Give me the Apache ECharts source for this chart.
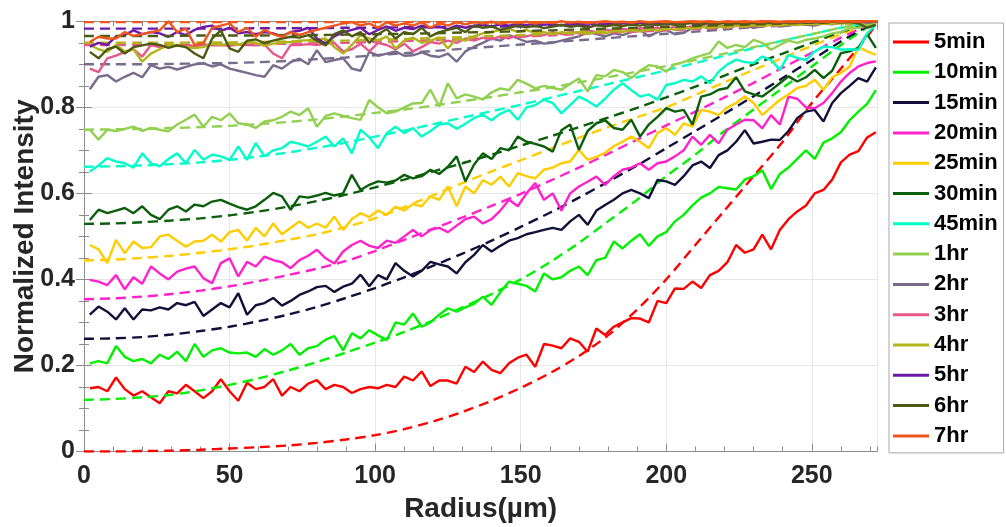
<!DOCTYPE html>
<html>
<head>
<meta charset="utf-8">
<script src="https://cdn.jsdelivr.net/npm/echarts@6/dist/echarts.min.js"></script>
<style>
html,body{margin:0;padding:0;background:#fff;}
#chart{width:1006px;height:527px;}
</style>
</head>
<body>
<div id="chart"></div>
<script>
// Radial intensity profiles at different diffusion times, with fitted curves (dashed)
const labels = ['5min','10min','15min','20min','25min','30min','45min','1hr','2hr','3hr','4hr','5hr','6hr','7hr'];
const colors = ['#ff0000','#00f000','#10103a','#ff22cc','#ffcc00','#0b5e0b','#00ffc8','#92d050','#786b8c','#e6578a','#b3b31a','#6e1aa8','#4d5a12','#f0561a'];

// measured radius positions (µm)
const radius = [
  2,5,8,11,14,17,20,23,26,29,
  32,35,38,41,44,47,50,53,56,59,
  62,65,68,71,74,77,80,83,86,89,
  92,95,98,101,104,107,110,113,116,119,
  122,125,128,131,134,137,140,143,146,149,
  152,155,158,161,164,167,170,173,176,179,
  182,185,188,191,194,197,200,203,206,209,
  212,215,218,221,224,227,230,233,236,239,
  242,245,248,251,254,257,260,263,266,269,
  272
];

const i5min = [
  .147,.150,.140,.172,.145,.130,.140,.126,.112,.140,
  .135,.155,.140,.124,.140,.168,.140,.118,.160,.145,
  .150,.168,.130,.150,.140,.158,.166,.145,.155,.150,
  .136,.145,.150,.147,.155,.150,.174,.165,.186,.152,
  .165,.165,.158,.197,.185,.209,.190,.182,.205,.218,
  .225,.197,.250,.246,.240,.263,.255,.232,.286,.271,
  .290,.300,.310,.309,.300,.350,.345,.379,.378,.395,
  .380,.410,.420,.440,.480,.462,.470,.504,.470,.515,
  .540,.558,.572,.600,.608,.632,.672,.690,.698,.730,
  .742
];
const i10min = [
  .205,.210,.205,.245,.220,.210,.215,.205,.225,.215,
  .232,.210,.250,.220,.235,.240,.230,.228,.230,.220,
  .238,.225,.235,.250,.225,.240,.245,.260,.268,.235,
  .275,.263,.282,.270,.259,.300,.295,.321,.290,.300,
  .318,.333,.325,.335,.343,.360,.341,.370,.395,.390,
  .385,.372,.414,.400,.405,.420,.430,.410,.445,.450,
  .488,.472,.490,.505,.478,.500,.510,.535,.550,.572,
  .590,.600,.615,.612,.609,.632,.640,.654,.610,.645,
  .660,.680,.700,.680,.718,.728,.742,.770,.790,.808,
  .840
];
const i15min = [
  .318,.337,.325,.307,.333,.307,.330,.328,.335,.330,
  .345,.340,.348,.315,.330,.345,.335,.368,.318,.340,
  .345,.357,.339,.350,.364,.372,.382,.385,.371,.383,
  .390,.411,.384,.410,.400,.438,.420,.407,.420,.441,
  .435,.430,.414,.440,.457,.480,.465,.478,.490,.496,
  .505,.510,.515,.520,.515,.535,.550,.527,.560,.573,
  .585,.600,.608,.600,.589,.631,.628,.620,.640,.665,
  .674,.659,.689,.700,.720,.747,.716,.720,.725,.724,
  .745,.775,.790,.794,.767,.810,.833,.850,.868,.860,
  .893
];
const i20min = [
  .399,.395,.387,.410,.377,.405,.390,.430,.414,.400,
  .418,.425,.430,.403,.391,.438,.449,.407,.441,.430,
  .453,.445,.440,.426,.445,.455,.469,.449,.437,.465,
  .480,.490,.478,.473,.490,.485,.500,.515,.500,.515,
  .520,.510,.525,.540,.546,.530,.540,.560,.585,.570,
  .600,.624,.585,.600,.560,.600,.616,.627,.639,.620,
  .640,.655,.660,.670,.655,.670,.674,.686,.700,.732,
  .713,.736,.716,.748,.760,.771,.770,.751,.782,.760,
  .825,.820,.800,.798,.810,.833,.860,.880,.895,.903,
  .907
];
const i25min = [
  .480,.470,.438,.492,.461,.488,.473,.475,.500,.504,
  .490,.476,.488,.490,.504,.488,.510,.515,.490,.520,
  .500,.530,.505,.520,.535,.520,.530,.520,.546,.515,
  .540,.554,.545,.560,.550,.569,.560,.575,.570,.593,
  .585,.616,.570,.616,.600,.631,.620,.639,.616,.647,
  .640,.635,.655,.660,.670,.674,.701,.678,.685,.694,
  .710,.720,.732,.720,.705,.740,.752,.736,.763,.755,
  .794,.790,.782,.800,.810,.825,.810,.782,.800,.817,
  .830,.845,.850,.864,.841,.870,.880,.895,.941,.930,
  .922
];
const i30min = [
  .538,.562,.554,.560,.566,.554,.570,.550,.540,.562,
  .570,.558,.574,.570,.581,.585,.576,.568,.562,.570,
  .585,.601,.593,.562,.593,.590,.595,.601,.595,.600,
  .643,.608,.620,.628,.625,.630,.643,.635,.640,.655,
  .645,.662,.686,.628,.667,.693,.680,.705,.700,.732,
  .720,.715,.709,.697,.747,.760,.701,.745,.763,.770,
  .752,.748,.771,.732,.760,.778,.798,.790,.794,.760,
  .825,.830,.841,.845,.870,.837,.830,.825,.840,.856,
  .872,.860,.870,.887,.868,.885,.926,.930,.938,.970,
  .938
];
const i45min = [
  .651,.665,.682,.674,.670,.660,.693,.670,.663,.680,
  .693,.670,.701,.678,.690,.686,.678,.709,.678,.717,
  .686,.700,.705,.720,.715,.709,.720,.732,.709,.728,
  .693,.748,.730,.705,.740,.755,.740,.752,.732,.745,
  .760,.763,.750,.762,.775,.783,.770,.785,.794,.771,
  .800,.805,.818,.810,.786,.805,.825,.815,.802,.820,
  .841,.856,.840,.825,.830,.818,.852,.856,.864,.860,
  .872,.856,.883,.900,.911,.905,.903,.918,.910,.887,
  .922,.915,.910,.930,.941,.940,.934,.935,.934,.972,
  .992
];
const i1hr = [
  .748,.725,.748,.745,.750,.755,.745,.752,.748,.744,
  .760,.771,.783,.755,.778,.770,.786,.763,.760,.752,
  .767,.770,.778,.790,.782,.798,.755,.780,.786,.780,
  .775,.771,.817,.800,.786,.790,.800,.809,.810,.841,
  .802,.856,.821,.830,.825,.818,.835,.844,.840,.864,
  .855,.844,.850,.845,.841,.855,.867,.837,.875,.872,
  .887,.882,.868,.885,.898,.895,.883,.900,.905,.914,
  .920,.926,.953,.938,.945,.940,.957,.950,.934,.945,
  .955,.950,.957,.960,.965,.972,.975,.984,.985,.990,
  .995
];
const i2hr = [
  .842,.871,.875,.860,.871,.880,.870,.898,.890,.894,
  .888,.894,.900,.902,.895,.900,.890,.885,.880,.875,
  .871,.898,.890,.905,.913,.900,.933,.905,.910,.914,
  .890,.885,.929,.920,.925,.930,.920,.921,.928,.920,
  .917,.925,.906,.930,.941,.950,.960,.955,.968,.960,
  .952,.955,.948,.950,.955,.960,.965,.975,.970,.965,
  .972,.968,.975,.980,.965,.975,.980,.970,.973,.985,
  .990,.982,.988,.985,.990,.992,.985,.990,.993,.988,
  .990,.995,.992,.990,.995,.993,.997,.995,.998,.996,
  1.0
];
const i3hr = [
  .890,.882,.914,.920,.929,.935,.918,.945,.940,.945,
  .943,.945,.942,.946,.944,.945,.943,.946,.945,.944,
  .946,.925,.914,.945,.945,.947,.945,.948,.950,.930,
  .935,.948,.930,.950,.945,.935,.948,.930,.940,.952,
  .948,.955,.950,.960,.955,.962,.958,.965,.960,.968,
  .965,.970,.968,.975,.970,.975,.972,.978,.975,.980,
  .978,.982,.980,.984,.982,.985,.983,.987,.985,.988,
  .986,.990,.988,.990,.989,.992,.990,.993,.992,.994,
  .993,.995,.994,.996,.995,.997,.996,.998,.997,.999,
  1.0
];
const i4hr = [
  .945,.935,.929,.945,.930,.935,.906,.925,.935,.945,
  .945,.940,.938,.940,.948,.945,.948,.945,.952,.950,
  .943,.948,.950,.952,.955,.956,.958,.960,.940,.925,
  .945,.968,.960,.955,.965,.937,.955,.962,.950,.955,
  .962,.937,.960,.955,.965,.972,.975,.980,.983,.975,
  .980,.972,.975,.970,.975,.972,.975,.970,.975,.972,
  .978,.975,.980,.976,.982,.978,.984,.980,.985,.983,
  .987,.985,.988,.986,.990,.988,.991,.989,.992,.990,
  .993,.991,.994,.993,.995,.994,.996,.995,.997,.998,
  1.0
];
const i5hr = [
  .941,.950,.945,.965,.968,.979,.970,.975,.972,.964,
  .975,.968,.980,.987,.990,.978,.985,.972,.975,.970,
  .975,.972,.965,.975,.978,.985,.960,.948,.965,.975,
  .980,.985,.970,.980,.988,.978,.985,.982,.990,.985,
  .988,.982,.990,.985,.990,.992,.988,.993,.990,.994,
  .991,.995,.992,.994,.990,.995,.993,.996,.992,.995,
  .994,.996,.993,.997,.995,.996,.994,.997,.996,.998,
  .995,.997,.996,.998,.996,.998,.997,.999,.997,.998,
  .998,.999,.997,.999,.998,1.0,.998,.999,1.0,.999,
  1.0
];
const i6hr = [
  .929,.914,.935,.941,.925,.940,.944,.948,.945,.938,
  .944,.940,.925,.914,.960,.979,.937,.929,.955,.958,
  .949,.955,.960,.964,.962,.968,.955,.944,.970,.979,
  .965,.975,.950,.970,.982,.960,.975,.970,.985,.965,
  .975,.980,.985,.975,.990,.985,.988,.980,.985,.990,
  .986,.990,.984,.988,.992,.987,.990,.985,.991,.988,
  .992,.989,.993,.990,.994,.991,.995,.992,.994,.996,
  .993,.996,.994,.997,.995,.997,.996,.998,.996,.998,
  .997,.999,.998,.999,.997,1.0,.998,.999,.995,.985,
  .992
];
const i7hr = [
  .952,.964,.960,.960,.975,.966,.970,.975,.979,1.0,
  .975,.983,.945,.950,.985,.990,.995,.975,.985,.964,
  .980,.970,.964,.975,.968,.975,.980,.985,.990,.995,
  .998,.990,.995,.985,.998,.990,.995,.990,.998,.985,
  .995,.990,.998,.993,.998,.995,.999,.994,.998,.996,
  .999,.995,.998,.996,1.0,.997,.999,.996,.998,1.0,
  .998,.999,.997,1.0,.998,.999,1.0,.998,.999,1.0,
  .999,1.0,.998,1.0,.999,1.0,.999,1.0,1.0,.999,
  1.0,.999,1.0,1.0,.999,1.0,1.0,1.0,.999,1.0,
  1.0
];

// fitted profiles sampled along the radius (µm)
const fitRadius = [0,10,20,30,40,50,60,70,80,90,100,110,120,130,140,150,160,170,180,190,200,210,220,230,240,250,260,270,272.5];

const fit5min  = [0,0,.001,.002,.004,.007,.010,.014,.020,.028,.038,.052,.070,.092,.118,.148,.182,.222,.270,.330,.400,.480,.560,.640,.720,.810,.890,.973,1.0];
const fit10min = [.120,.122,.126,.132,.142,.155,.170,.188,.208,.230,.253,.278,.305,.335,.366,.400,.440,.485,.535,.585,.640,.690,.745,.795,.845,.895,.945,.990,1.0];
const fit15min = [.262,.263,.266,.272,.280,.290,.303,.318,.336,.357,.380,.405,.432,.460,.490,.522,.555,.590,.627,.665,.705,.745,.785,.826,.868,.910,.953,.992,1.0];
const fit20min = [.354,.356,.360,.366,.374,.384,.396,.410,.425,.443,.466,.492,.518,.544,.571,.599,.629,.660,.692,.725,.758,.790,.823,.857,.892,.927,.962,.993,1.0];
const fit25min = [.444,.446,.450,.455,.462,.470,.480,.492,.505,.522,.542,.568,.596,.624,.651,.677,.703,.729,.754,.777,.800,.829,.858,.887,.915,.943,.970,.994,1.0];
const fit30min = [.529,.530,.533,.537,.542,.549,.558,.569,.582,.597,.614,.632,.651,.670,.690,.711,.732,.754,.776,.799,.823,.848,.874,.900,.925,.950,.975,.995,1.0];
const fit45min = [.662,.663,.665,.668,.672,.678,.686,.695,.706,.718,.732,.746,.761,.776,.791,.806,.822,.838,.854,.870,.886,.903,.920,.938,.955,.970,.985,.997,1.0];
const fit1hr   = [.748,.749,.750,.752,.754,.757,.761,.766,.772,.779,.787,.795,.804,.814,.824,.835,.846,.858,.870,.883,.896,.910,.925,.940,.955,.970,.985,.997,1.0];
const fit2hr   = [.900,.900,.900,.901,.902,.903,.905,.908,.912,.916,.921,.926,.931,.936,.941,.946,.951,.956,.961,.966,.971,.976,.981,.986,.990,.994,.997,.999,1.0];
const fit3hr   = [.945,.945,.945,.945,.946,.946,.947,.948,.949,.950,.952,.954,.956,.958,.961,.964,.967,.970,.973,.976,.979,.982,.985,.988,.991,.994,.997,.999,1.0];
const fit4hr   = [.950,.950,.950,.950,.951,.951,.952,.953,.954,.955,.957,.959,.961,.963,.966,.968,.971,.974,.977,.980,.982,.985,.988,.990,.993,.995,.997,.999,1.0];
const fit5hr   = [.983,.983,.983,.983,.983,.983,.984,.984,.984,.985,.985,.986,.986,.987,.988,.988,.989,.990,.991,.992,.993,.994,.995,.996,.997,.998,.999,1.0,1.0];
const fit6hr   = [.966,.966,.966,.966,.967,.967,.967,.968,.968,.969,.970,.971,.972,.974,.975,.977,.979,.981,.983,.985,.987,.989,.991,.993,.995,.997,.998,.999,1.0];
const fit7hr   = [.998,.998,.998,.998,.998,.998,.998,.998,.998,.998,.998,.998,.998,.998,.998,.998,.998,.998,.998,.998,.998,.998,.998,.998,.998,.999,.999,1.0,1.0];

const xTicks = [0,50,100,150,200,250];
const yTicks = [0,0.2,0.4,0.6,0.8,1];

const profiles = [i5min,i10min,i15min,i20min,i25min,i30min,i45min,i1hr,i2hr,i3hr,i4hr,i5hr,i6hr,i7hr];
const fits = [fit5min,fit10min,fit15min,fit20min,fit25min,fit30min,fit45min,fit1hr,fit2hr,fit3hr,fit4hr,fit5hr,fit6hr,fit7hr];

const FONT = "'Liberation Sans', Arial, sans-serif";
const AXIS_COLOR = '#8c8c8c';
const TEXT_COLOR = '#262626';
const LINE_W = 2.4;

const series = [];
labels.forEach((name, k) => {
  series.push({
    name: name,
    type: 'line',
    data: radius.map((r, j) => [r, profiles[k][j]]),
    symbol: 'none',
    showSymbol: false,
    lineStyle: { width: LINE_W, color: colors[k] },
    itemStyle: { color: colors[k] }
  });
  series.push({
    name: name + ' fit',
    type: 'line',
    data: fitRadius.map((r, j) => [r, fits[k][j]]),
    symbol: 'none',
    showSymbol: false,
    smooth: 0.3,
    lineStyle: { width: LINE_W, type: [10, 6], color: colors[k] },
    itemStyle: { color: colors[k] }
  });
});

const xMax = 272.5;
function xAxisDef(pos, interval, major) {
  return {
    type: 'value', position: pos, min: 0, max: xMax, interval: interval,
    axisLine: { show: major, lineStyle: { color: AXIS_COLOR, width: 1 } },
    axisTick: { show: true, inside: true, length: major ? 8 : 5, lineStyle: { color: AXIS_COLOR } },
    axisLabel: { show: false },
    splitLine: { show: false }
  };
}

const xAxes = [
  Object.assign(xAxisDef('bottom', 50, true), {
    axisLabel: {
      show: true, showMaxLabel: false, margin: 12,
      fontSize: 25, fontWeight: 'bold', color: TEXT_COLOR, fontFamily: FONT,
      formatter: v => (xTicks.indexOf(v) >= 0 ? String(v) : '')
    },
    splitLine: { show: true, lineStyle: { color: '#e6e6e6', width: 1 } },
    name: 'Radius(µm)', nameLocation: 'middle', nameGap: 44, nameMoveOverlap: false,
    nameTextStyle: { fontSize: 28, fontWeight: 'bold', color: TEXT_COLOR, fontFamily: FONT }
  }),
  xAxisDef('bottom', 10, false),
  xAxisDef('top', 50, true),
  xAxisDef('top', 10, false)
];

function yAxisDef(pos, labelled) {
  const ax = {
    type: 'value', position: pos, min: 0, max: 1, interval: 0.2,
    axisLine: { show: true, lineStyle: { color: AXIS_COLOR, width: 1 } },
    axisTick: { show: true, inside: true, length: 8, lineStyle: { color: AXIS_COLOR } },
    minorTick: { show: true, splitNumber: 4, length: 5, lineStyle: { color: AXIS_COLOR } },
    axisLabel: { show: false },
    splitLine: { show: false }
  };
  if (labelled) {
    ax.axisLabel = {
      show: true, margin: 9, fontSize: 25, fontWeight: 'bold', color: TEXT_COLOR, fontFamily: FONT,
      formatter: v => (yTicks.indexOf(Math.round(v * 10) / 10) >= 0 ? String(Math.round(v * 10) / 10) : '')
    };
    ax.splitLine = { show: true, lineStyle: { color: '#e6e6e6', width: 1 } };
    ax.name = 'Normalized Intensity';
    ax.nameLocation = 'middle';
    ax.nameGap = 45;
    ax.nameMoveOverlap = false;
    ax.nameTextStyle = { fontSize: 28, fontWeight: 'bold', color: TEXT_COLOR, fontFamily: FONT };
  }
  return ax;
}

const option = {
  animation: false,
  backgroundColor: '#ffffff',
  textStyle: { fontFamily: FONT },
  grid: { left: 84, right: 128.7, top: 21.3, bottom: 75.5, containLabel: false, outerBoundsMode: 'none' },
  legend: {
    data: labels,
    orient: 'vertical',
    left: 889, top: 23,
    padding: [8, 6, 6, 4],
    itemGap: 8.3,
    itemWidth: 36, itemHeight: 3,
    icon: 'rect',
    backgroundColor: '#ffffff',
    borderColor: '#a8a8a8', borderWidth: 1,
    textStyle: { fontSize: 22, fontWeight: 'bold', color: '#000', fontFamily: FONT }
  },
  xAxis: xAxes,
  yAxis: [yAxisDef('left', true), yAxisDef('right', false)],
  series: series
};

const chart = echarts.init(document.getElementById('chart'), null, { renderer: 'canvas' });
chart.setOption(option);
</script>
</body>
</html>
